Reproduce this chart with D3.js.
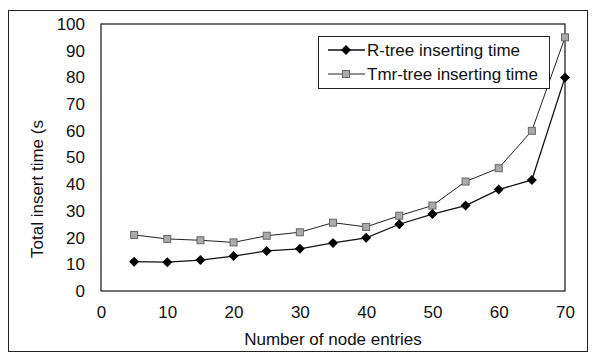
<!DOCTYPE html>
<html>
<head>
<meta charset="utf-8">
<script src="https://cdn.jsdelivr.net/npm/d3@7"></script>
<style>
  body { margin: 0; background: #fff; }
  text { font-family: "Liberation Sans", Arial, sans-serif; fill: #111; }
</style>
</head>
<body>
<div id="chart"></div>
<script>
const width = 592;
const height = 354;

const entries = [5, 10, 15, 20, 25, 30, 35, 40, 45, 50, 55, 60, 65, 70];
const rtree = [11, 10.8, 11.6, 13.1, 15, 15.8, 18, 19.9, 25, 28.8, 32, 38, 41.6, 80];
const tmrtree = [21, 19.5, 19, 18.2, 20.7, 22, 25.6, 24, 28.2, 32, 41, 46, 60, 95];
const xTicks = [0, 10, 20, 30, 40, 50, 60, 70];
const yTicks = [0, 10, 20, 30, 40, 50, 60, 70, 80, 90, 100];

const svg = d3.select("#chart")
  .append("svg")
  .attr("width", width)
  .attr("height", height);

// outer frame
svg.append("rect")
  .attr("x", 8.5).attr("y", 10.5)
  .attr("width", 579).attr("height", 341)
  .attr("fill", "none").attr("stroke", "#222").attr("stroke-width", 1);

const x = d3.scaleLinear().domain([0, 70]).range([101, 565]);
const y = d3.scaleLinear().domain([0, 100]).range([291, 24]);

// plot frame
svg.append("rect")
  .attr("x", x(0)).attr("y", y(100))
  .attr("width", x(70) - x(0)).attr("height", y(0) - y(100))
  .attr("fill", "none").attr("stroke", "#111").attr("stroke-width", 1.2);

const xAxis = svg.append("g")
  .attr("transform", `translate(0,${y(0)})`)
  .call(d3.axisBottom(x).tickValues(xTicks).tickSize(0).tickPadding(15));
xAxis.select(".domain").remove();
xAxis.selectAll("text").style("font-size", "17px").style("font-family", "Liberation Sans, Arial, sans-serif");

const yAxis = svg.append("g")
  .attr("transform", `translate(${x(0)},0)`)
  .call(d3.axisLeft(y).tickValues(yTicks).tickSize(0).tickPadding(16));
yAxis.select(".domain").remove();
yAxis.selectAll("text").style("font-size", "17px").style("font-family", "Liberation Sans, Arial, sans-serif");

svg.append("text")
  .attr("x", 333).attr("y", 345)
  .attr("text-anchor", "middle")
  .style("font-size", "17px")
  .text("Number of node entries");

svg.append("text")
  .attr("transform", "translate(43,189) rotate(-90)")
  .attr("text-anchor", "middle")
  .style("font-size", "17px")
  .text("Total insert time (s");

const line = d3.line()
  .x((d, i) => x(entries[i]))
  .y(d => y(d));

svg.append("path").datum(tmrtree)
  .attr("d", line).attr("fill", "none").attr("stroke", "#222").attr("stroke-width", 1);
svg.append("path").datum(rtree)
  .attr("d", line).attr("fill", "none").attr("stroke", "#111").attr("stroke-width", 1.3);

const diamond = "M0,-5L5,0L0,5L-5,0Z";

svg.append("g").selectAll("rect")
  .data(tmrtree).enter().append("rect")
  .attr("x", (d, i) => x(entries[i]) - 3.5)
  .attr("y", d => y(d) - 3.5)
  .attr("width", 7).attr("height", 7)
  .attr("fill", "#aaa").attr("stroke", "#666").attr("stroke-width", 1);

svg.append("g").selectAll("path")
  .data(rtree).enter().append("path")
  .attr("d", diamond)
  .attr("transform", (d, i) => `translate(${x(entries[i])},${y(d)})`)
  .attr("fill", "#000");

// legend
const legend = svg.append("g");
legend.append("rect")
  .attr("x", 318.5).attr("y", 36.5)
  .attr("width", 231).attr("height", 52)
  .attr("fill", "#fff").attr("stroke", "#222").attr("stroke-width", 1);

legend.append("line")
  .attr("x1", 328).attr("x2", 365).attr("y1", 50).attr("y2", 50)
  .attr("stroke", "#111").attr("stroke-width", 1.3);
legend.append("path")
  .attr("d", diamond)
  .attr("transform", "translate(346,50)")
  .attr("fill", "#000");
legend.append("text")
  .attr("x", 367).attr("y", 56)
  .style("font-size", "17px")
  .text("R-tree inserting time");

legend.append("line")
  .attr("x1", 328).attr("x2", 365).attr("y1", 74).attr("y2", 74)
  .attr("stroke", "#222").attr("stroke-width", 1);
legend.append("rect")
  .attr("x", 342.5).attr("y", 70.5).attr("width", 7).attr("height", 7)
  .attr("fill", "#aaa").attr("stroke", "#666");
legend.append("text")
  .attr("x", 367).attr("y", 80)
  .style("font-size", "17px")
  .text("Tmr-tree inserting time");
</script>
</body>
</html>
